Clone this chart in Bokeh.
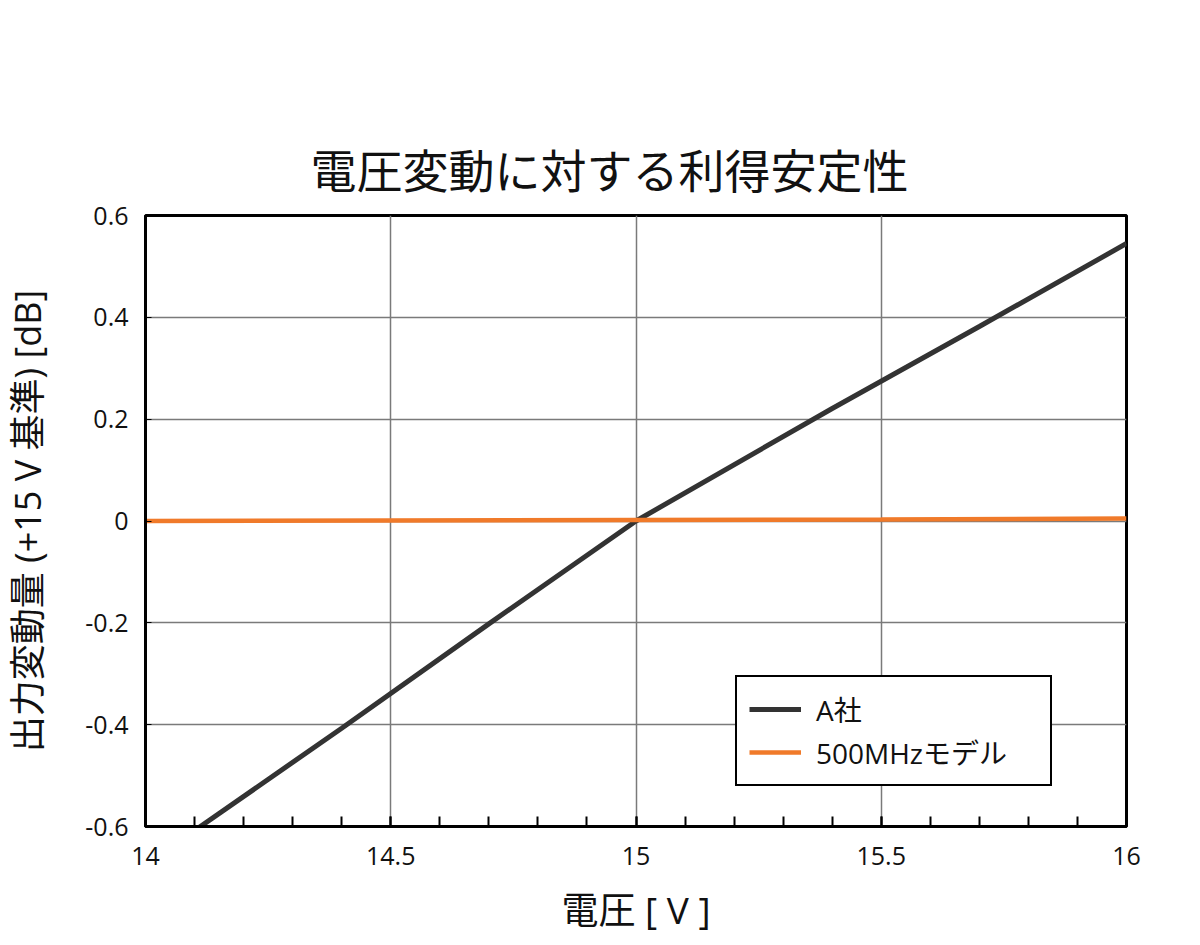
from bokeh.plotting import figure
from bokeh.models import FixedTicker, Range1d, Legend, LegendItem, Title
from bokeh.embed import file_html
from bokeh.resources import INLINE

# ---- data ----
voltage_a = [14.1, 14.4, 14.7, 15.0, 15.4, 15.7, 16.0]
gain_a = [-0.608, -0.407, -0.202, 0.0, 0.221, 0.382, 0.545]
voltage_500 = [14.0, 14.5, 15.0, 15.5, 16.0]
gain_500 = [0.0, 0.001, 0.002, 0.003, 0.005]

x_ticks = [14, 14.5, 15, 15.5, 16]
x_tick_labels = ["14", "14.5", "15", "15.5", "16"]
x_minor = [round(14 + 0.1 * i, 1) for i in range(21)]
y_ticks = [-0.6, -0.4, -0.2, 0, 0.2, 0.4, 0.6]
y_tick_labels = ["-0.6", "-0.4", "-0.2", "0", "0.2", "0.4", "0.6"]

title_text = "電圧変動に対する利得安定性"
x_label = "電圧 [ V ]"
y_label = "出力変動量 (+15 V 基準) [dB]"
series_names = ["A社", "500MHzモデル"]

FONT = "Open Sans, Noto Sans CJK JP"

p = figure(width=1184, height=937, output_backend="svg", toolbar_location=None,
           x_range=Range1d(14, 16), y_range=Range1d(-0.6, 0.6),
           min_border_left=145, min_border_right=58, min_border_top=215,
           min_border_bottom=111, title=None)

p.add_layout(Title(text=title_text, text_font=FONT, text_font_size="46px",
                   text_font_style="normal", text_color="#111111", align="left",
                   offset=165, standoff=29), "above")

p.outline_line_color = "black"
p.outline_line_width = 3
p.outline_line_alpha = 1
p.background_fill_color = "white"
p.border_fill_color = "white"

# x axis
p.xaxis.ticker = FixedTicker(ticks=x_ticks, minor_ticks=x_minor)
p.xaxis.major_label_overrides = {t: l for t, l in zip(x_ticks, x_tick_labels)}
p.xaxis.axis_label = x_label
p.xaxis.axis_label_text_font = FONT
p.xaxis.axis_label_text_font_size = "37px"
p.xaxis.axis_label_text_font_style = "normal"
p.xaxis.axis_label_text_color = "#111111"
p.xaxis.axis_label_standoff = 16
p.xaxis.major_label_text_font = FONT
p.xaxis.major_label_text_font_size = "25px"
p.xaxis.major_label_text_color = "#111111"
p.xaxis.major_label_standoff = 20
p.xaxis.axis_line_width = 3
p.xaxis.axis_line_color = "black"
p.xaxis.major_tick_in = 10
p.xaxis.major_tick_out = 0
p.xaxis.minor_tick_in = 10
p.xaxis.minor_tick_out = 0
p.xaxis.major_tick_line_width = 2
p.xaxis.minor_tick_line_width = 2
p.xaxis.major_tick_line_color = "black"
p.xaxis.minor_tick_line_color = "black"

# y axis
p.yaxis.ticker = FixedTicker(ticks=y_ticks)
p.yaxis.major_label_overrides = {t: l for t, l in zip(y_ticks, y_tick_labels)}
p.yaxis.axis_label = y_label
p.yaxis.axis_label_text_font = FONT
p.yaxis.axis_label_text_font_size = "36px"
p.yaxis.axis_label_text_font_style = "normal"
p.yaxis.axis_label_text_color = "#111111"
p.yaxis.axis_label_standoff = 30
p.yaxis.major_label_text_font = FONT
p.yaxis.major_label_text_font_size = "25px"
p.yaxis.major_label_text_color = "#111111"
p.yaxis.major_label_standoff = 17
p.yaxis.axis_line_width = 3
p.yaxis.axis_line_color = "black"
p.yaxis.major_tick_in = 6
p.yaxis.major_tick_out = 0
p.yaxis.major_tick_line_color = "black"
p.yaxis.minor_tick_line_color = None

p.xgrid.grid_line_color = "#7a7a7a"
p.xgrid.grid_line_width = 1.5
p.ygrid.grid_line_color = "#7a7a7a"
p.ygrid.grid_line_width = 1.5

r_a = p.line(voltage_a, gain_a, line_color="#333333", line_width=5)
r_b = p.line(voltage_500, gain_500, line_color="#F07A2A", line_width=4.5)

legend = Legend(items=[LegendItem(label=series_names[0], renderers=[r_a]),
                       LegendItem(label=series_names[1], renderers=[r_b])],
                location=(590, 40))
legend.border_line_color = "black"
legend.border_line_alpha = 1
legend.border_line_width = 2
legend.background_fill_color = "white"
legend.background_fill_alpha = 1
legend.label_text_font = FONT
legend.label_text_font_size = "28px"
legend.label_text_color = "#111111"
legend.glyph_width = 52
legend.glyph_height = 30
legend.label_height = 30
legend.label_standoff = 15
legend.spacing = 3
legend.padding = 12
legend.margin = 0
legend.label_width = 222
p.add_layout(legend, "center")

open("out.html", "w").write(file_html(p, INLINE))
